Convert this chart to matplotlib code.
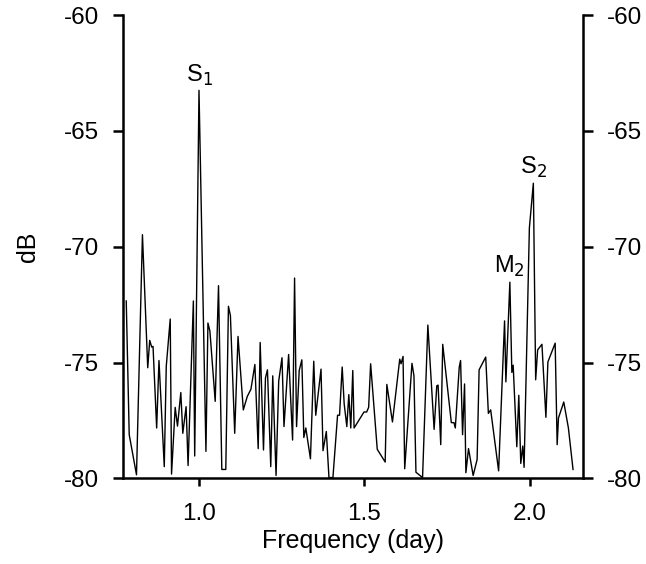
import numpy as np
import matplotlib
matplotlib.use('Agg')
import matplotlib.pyplot as plt

plt.rcParams['font.family'] = ['Liberation Sans', 'DejaVu Sans']
plt.rcParams['axes.unicode_minus'] = False

## Data
freq = [0.780, 0.789, 0.811, 0.829, 0.845, 0.851, 0.857, 0.861, 0.872, 0.879,
        0.895, 0.901, 0.913, 0.917, 0.928, 0.935, 0.945, 0.951, 0.961, 0.967,
        0.983, 0.987, 1.000, 1.021, 1.027, 1.033, 1.049, 1.059, 1.069, 1.081,
        1.089, 1.095, 1.108, 1.118, 1.134, 1.146, 1.157, 1.169, 1.179, 1.185,
        1.195, 1.201, 1.207, 1.217, 1.223, 1.233, 1.241, 1.251, 1.257, 1.271,
        1.283, 1.289, 1.295, 1.303, 1.311, 1.317, 1.323, 1.337, 1.347, 1.353,
        1.369, 1.375, 1.385, 1.393, 1.405, 1.419, 1.425, 1.433, 1.439, 1.447,
        1.453, 1.459, 1.465, 1.469, 1.499, 1.507, 1.513, 1.519, 1.539, 1.563,
        1.568, 1.585, 1.607, 1.611, 1.617, 1.622, 1.644, 1.650, 1.656, 1.676,
        1.692, 1.711, 1.719, 1.723, 1.731, 1.737, 1.763, 1.771, 1.775, 1.787,
        1.791, 1.797, 1.803, 1.807, 1.815, 1.829, 1.841, 1.847, 1.867, 1.875,
        1.882, 1.906, 1.924, 1.928, 1.940, 1.946, 1.950, 1.961, 1.967, 1.973,
        1.979, 1.983, 1.999, 2.011, 2.018, 2.024, 2.037, 2.049, 2.055, 2.077,
        2.083, 2.087, 2.103, 2.117, 2.131]
db = [-72.34, -78.11, -79.84, -69.48, -75.22, -74.04, -74.33, -74.30, -77.82, -74.91,
      -79.49, -75.16, -73.12, -79.81, -76.93, -77.74, -76.29, -78.05, -76.90, -79.44,
      -72.34, -79.03, -63.25, -78.83, -73.29, -73.64, -76.67, -71.68, -79.61, -79.61,
      -72.57, -72.97, -78.05, -73.87, -77.04, -76.46, -76.15, -75.08, -78.71, -74.13,
      -78.77, -75.66, -75.31, -79.49, -75.57, -79.87, -75.80, -74.79, -77.76, -74.65,
      -78.34, -71.35, -77.76, -75.34, -74.88, -78.23, -77.82, -79.15, -74.94, -77.27,
      -75.28, -78.80, -77.97, -79.96, -79.96, -77.27, -77.27, -75.19, -76.78, -77.76,
      -76.38, -77.82, -75.34, -77.82, -77.13, -77.13, -76.93, -75.05, -78.74, -79.29,
      -75.94, -77.56, -74.85, -75.05, -74.73, -79.58, -75.03, -75.57, -79.73, -79.96,
      -73.38, -77.88, -76.00, -75.97, -78.54, -74.21, -77.59, -77.59, -77.82, -75.19,
      -74.91, -78.11, -75.92, -79.75, -78.71, -79.87, -79.18, -75.31, -74.76, -77.19,
      -77.04, -79.67, -73.20, -75.83, -71.53, -75.42, -75.11, -78.63, -76.41, -79.35,
      -78.60, -79.52, -69.19, -67.26, -75.74, -74.45, -74.21, -77.36, -74.97, -74.16,
      -78.54, -77.39, -76.70, -77.82, -79.61]

peak_labels = ['S$_1$', 'M$_2$', 'S$_2$']
peak_freq = [1.000, 1.940, 2.011]
peak_db = [-63.25, -71.53, -67.26]

xticks = [1.0, 1.5, 2.0]
yticks = [-80, -75, -70, -65, -60]

fig = plt.figure(figsize=(6.46, 5.64), dpi=100)
ax = fig.add_axes([0.1904, 0.1516, 0.7121, 0.8218])
ax.plot(freq, db, color='black', lw=1.0)

for lab, f, d in zip(peak_labels, peak_freq, peak_db):
    ax.annotate(lab, (f, d), xytext=(0, 2), textcoords='offset points',
                ha='center', va='bottom', fontsize=17)

ax.set_xlim(0.7702, 2.1612)
ax.set_ylim(-80, -60)
ax.set_xticks(xticks)
ax.set_xticklabels(['%.1f' % t for t in xticks])
ax.set_yticks(yticks)
ax.spines['top'].set_visible(False)
for s in ['left', 'right', 'bottom']:
    ax.spines[s].set_linewidth(1.8)
ax.tick_params(axis='y', which='both', left=True, right=True, labelleft=True,
               labelright=True, direction='out', length=7, width=1.8,
               labelsize=17.5, pad=10)
ax.tick_params(axis='x', direction='out', length=6, width=1.8, labelsize=17.5, pad=12)
ax.set_xlabel('Frequency (day)', fontsize=18)
ax.set_ylabel('dB', fontsize=18)
ax.yaxis.set_label_coords(-0.18, 0.5)
ax.xaxis.set_label_coords(0.5, -0.11)

fig.savefig('out.png', dpi=100)
